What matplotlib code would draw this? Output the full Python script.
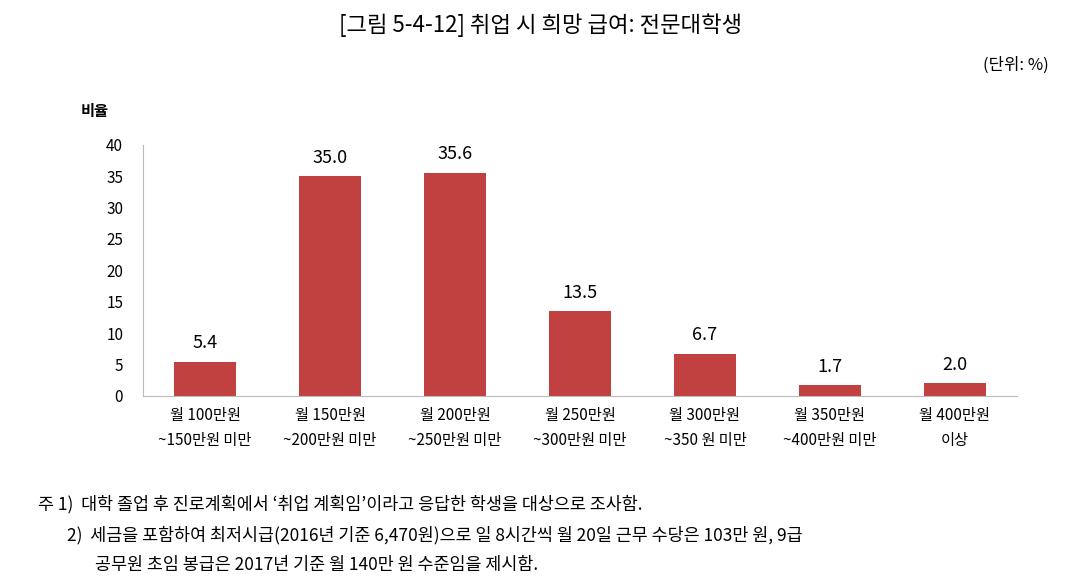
import matplotlib
matplotlib.use("Agg")
import matplotlib.pyplot as plt

categories = ["월 100만원\n~150만원 미만", "월 150만원\n~200만원 미만", "월 200만원\n~250만원 미만",
              "월 250만원\n~300만원 미만", "월 300만원\n~350 원 미만", "월 350만원\n~400만원 미만", "월 400만원\n이상"]
values = [5.4, 35.0, 35.6, 13.5, 6.7, 1.7, 2.0]
yticks = [0, 5, 10, 15, 20, 25, 30, 35, 40]

F = "Noto Sans CJK JP"
plt.rcParams["font.family"] = F
fig = plt.figure(figsize=(10.81, 5.82), dpi=100)
ax = fig.add_axes([0.132, 0.320, 0.809, 0.431])
x = range(len(values))
ax.bar(x, values, width=0.5, color="#C0413F")
for i, v in zip(x, values):
    ax.text(i, v + 1.5, f"{v:.1f}", ha="center", va="bottom", fontsize=13, family=F)
ax.set_xlim(-0.5, len(values) - 0.5)
ax.set_ylim(0, 40)
ax.set_yticks(yticks)
ax.set_xticks(list(x))
ax.set_xticklabels(categories, fontsize=11, linespacing=1.6, family=F)
for t in ax.get_yticklabels():
    t.set_family(F)
ax.tick_params(axis="y", labelsize=11, length=0, pad=14)
ax.tick_params(axis="x", length=0, pad=8)
for s in ["top", "right"]:
    ax.spines[s].set_visible(False)
ax.spines["left"].set_color("#BBBBBB")
ax.spines["bottom"].set_color("#BBBBBB")
fig.text(0.075, 0.80, "비율", fontsize=11, fontweight="bold", family=F)
fig.text(0.5, 0.945, "[그림 5-4-12] 취업 시 희망 급여: 전문대학생", ha="center", fontsize=16, family=F)
fig.text(0.97, 0.88, "(단위: %)", ha="right", fontsize=12, family=F)
fig.text(0.035, 0.125, "주 1)  대학 졸업 후 진로계획에서 ‘취업 계획임’이라고 응답한 학생을 대상으로 조사함.", fontsize=12.5, family=F)
fig.text(0.062, 0.072, "2)  세금을 포함하여 최저시급(2016년 기준 6,470원)으로 일 8시간씩 월 20일 근무 수당은 103만 원, 9급", fontsize=12.5, family=F)
fig.text(0.088, 0.020, "공무원 초임 봉급은 2017년 기준 월 140만 원 수준임을 제시함.", fontsize=12.5, family=F)
fig.savefig("out.png", dpi=100)
